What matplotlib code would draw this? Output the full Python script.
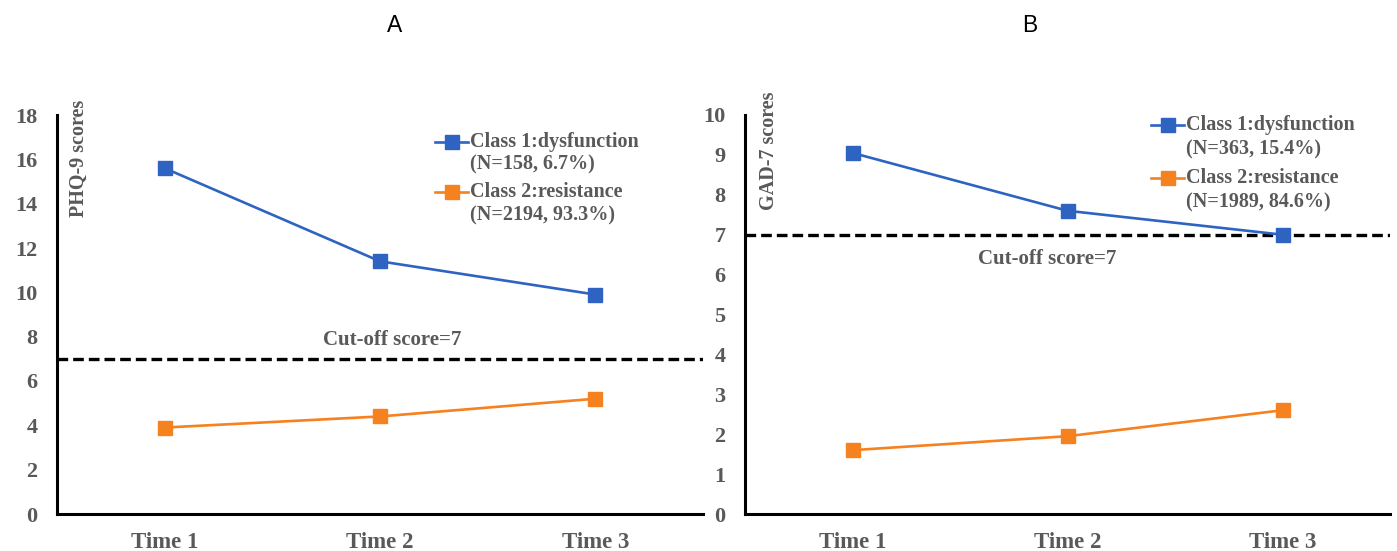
import matplotlib
matplotlib.use("Agg")
import matplotlib.pyplot as plt
from matplotlib.lines import Line2D

times = ["Time 1", "Time 2", "Time 3"]

phq_class1 = [15.6, 11.4, 9.9]
phq_class2 = [3.9, 4.4, 5.2]
phq_labels = [("Class 1:dysfunction", "(N=158, 6.7%)"), ("Class 2:resistance", "(N=2194, 93.3%)")]
phq_yticks = [0, 2, 4, 6, 8, 10, 12, 14, 16, 18]

gad_class1 = [9.05, 7.6, 7.0]
gad_class2 = [1.6, 1.95, 2.6]
gad_labels = [("Class 1:dysfunction", "(N=363, 15.4%)"), ("Class 2:resistance", "(N=1989, 84.6%)")]
gad_yticks = [0, 1, 2, 3, 4, 5, 6, 7, 8, 9, 10]

cutoff = 7

BLUE = "#2E63C2"
ORANGE = "#F5811F"
GRAY = "#595959"
SERIF = "Liberation Serif"

W, H = 1397, 551
fig = plt.figure(figsize=(W / 100, H / 100), dpi=100)

def fx(px):
    return px / W

def fy(py):
    return 1 - py / H

def legend_entry(x0, y, color, line1, line2, dy):
    xs = [fx(x0), fx(x0 + 16.5), fx(x0 + 33)]
    fig.add_artist(Line2D(xs, [fy(y)] * 3, transform=fig.transFigure, color=color, lw=1.9,
                          marker="s", ms=10, markevery=[1]))
    for i, txt in enumerate((line1, line2)):
        fig.text(fx(x0 + 35), fy(y + i * dy), txt, ha="left", va="center",
                 family=SERIF, weight="bold", fontsize=14.5, color=GRAY)

def panel(rect, c1, c2, labels, yticks, ylabel, ylabel_xy, cut_xy, leg_x, leg_ys, title, title_xy):
    ax = fig.add_axes(rect)
    x = [0.5, 1.5, 2.5]
    ax.plot(x, c1, color=BLUE, lw=1.9, marker="s", ms=10, solid_joinstyle="round")
    ax.plot(x, c2, color=ORANGE, lw=1.9, marker="s", ms=10, solid_joinstyle="round")
    ax.axhline(cutoff, color="black", lw=2.4, dashes=(3.2, 1.5), zorder=1)
    ax.set_xlim(0, 3)
    ax.set_ylim(0, yticks[-1])
    ax.set_xticks(x)
    ax.set_xticklabels(times)
    ax.set_yticks(yticks)
    for s in ["top", "right"]:
        ax.spines[s].set_visible(False)
    for s in ["left", "bottom"]:
        ax.spines[s].set_linewidth(2.2)
        ax.spines[s].set_color("black")
    ax.tick_params(axis="both", length=0)
    ax.tick_params(axis="y", pad=14)
    ax.tick_params(axis="x", pad=13)
    for lab in ax.get_yticklabels():
        lab.set_fontsize(16)
    for lab in ax.get_xticklabels():
        lab.set_fontsize(16.5)
    for lab in ax.get_xticklabels() + ax.get_yticklabels():
        lab.set_fontfamily(SERIF)
        lab.set_fontweight("bold")
        lab.set_color(GRAY)
    fig.text(fx(ylabel_xy[0]), fy(ylabel_xy[1]), ylabel, rotation=90, ha="center", va="top",
             family=SERIF, weight="bold", fontsize=14.5, color=GRAY)
    fig.text(fx(cut_xy[0]), fy(cut_xy[1]), "Cut-off score=7", ha="center", va="center",
             family=SERIF, weight="bold", fontsize=15, color=GRAY)
    legend_entry(leg_x, leg_ys[0], BLUE, labels[0][0], labels[0][1], leg_ys[1] - leg_ys[0])
    legend_entry(leg_x, leg_ys[2], ORANGE, labels[1][0], labels[1][1], leg_ys[3] - leg_ys[2])
    fig.text(fx(title_xy[0]), fy(title_xy[1]), title, ha="center", va="center",
             family="Liberation Sans", fontsize=16.5, color="black")
    return ax

panel([fx(57), fy(514), fx(703) - fx(57), fy(115) - fy(514)],
      phq_class1, phq_class2, phq_labels, phq_yticks, "PHQ-9 scores",
      (79, 100), (392, 340), 435, (142, 164, 192, 215), "A", (395, 25))
panel([fx(745), fy(514), fx(1390) - fx(745), fy(115) - fy(514)],
      gad_class1, gad_class2, gad_labels, gad_yticks, "GAD-7 scores",
      (769, 91), (1047, 259), 1151, (125, 149, 178, 202), "B", (1030, 25))

fig.savefig("out.png", dpi=100)
